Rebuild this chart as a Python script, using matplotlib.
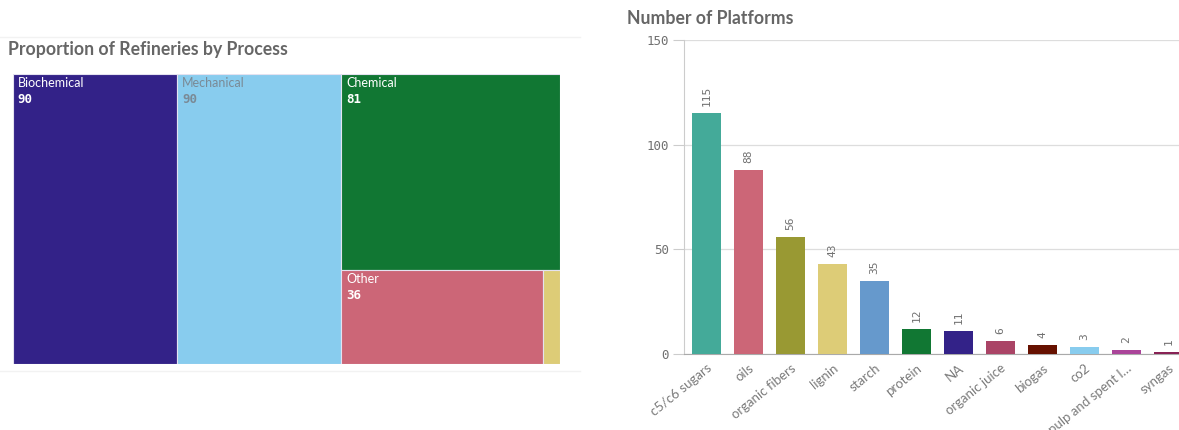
import matplotlib
matplotlib.use("Agg")
import matplotlib.pyplot as plt
from matplotlib.patches import Rectangle

# ---- data ----
process_names = ["Biochemical", "Mechanical", "Chemical", "Other", "Thermochemical"]
process_counts = [90, 90, 81, 36, 3]
process_colors = ["#332288", "#88CCEE", "#117733", "#CC6677", "#DDCC77"]

platform_names = ["c5/c6 sugars", "oils", "organic fibers", "lignin", "starch",
                  "protein", "NA", "organic juice", "biogas", "co2",
                  "pulp and spent l\u2026", "syngas"]
platform_counts = [115, 88, 56, 43, 35, 12, 11, 6, 4, 3, 2, 1]
platform_colors = ["#44AA99", "#CC6677", "#999933", "#DDCC77", "#6699CC",
                   "#117733", "#332288", "#AA4466", "#661100", "#88CCEE",
                   "#AA4499", "#882255"]
y_ticks = [0, 50, 100, 150]

TITLE_C = "#666666"
TEXT_C = "#707070"
SANS = ["Lato", "DejaVu Sans"]
MONO = ["DejaVu Sans Mono"]

W, H = 1179, 430
fig = plt.figure(figsize=(W / 100, H / 100), dpi=100)


def fx(px):
    return px / W


def fy(py):
    return 1 - py / H


# ---- squarified treemap layout ----
def worst(row, length):
    s = sum(row)
    return max(max(length * length * r / (s * s), (s * s) / (length * length * r)) for r in row)


def layout_row(row, x, y, dx, dy):
    rects = []
    s = sum(row)
    if dx >= dy:  # column along the left side
        w = s / dy
        yy = y
        for r in row:
            h = r / w
            rects.append((x, yy, w, h))
            yy += h
        return rects, (x + w, y, dx - w, dy)
    else:  # row along the top side
        h = s / dx
        xx = x
        for r in row:
            w = r / h
            rects.append((xx, y, w, h))
            xx += w
        return rects, (x, y + h, dx, dy - h)


def squarify(values, x, y, dx, dy):
    total = sum(values)
    areas = [v * dx * dy / total for v in values]
    rects = []
    rect = (x, y, dx, dy)
    i = 0
    while i < len(areas):
        side = min(rect[2], rect[3])
        row = [areas[i]]
        i += 1
        while i < len(areas) and worst(row + [areas[i]], side) <= worst(row, side):
            row.append(areas[i])
            i += 1
        placed, rect = layout_row(row, *rect)
        rects.extend(placed)
    return rects


# ---- treemap panel ----
tm_left, tm_top, tm_w, tm_h = 12.7, 74, 547.3, 290
ax1 = fig.add_axes([fx(tm_left), fy(tm_top + tm_h), fx(tm_w), tm_h / H])
ax1.set_xlim(0, tm_w)
ax1.set_ylim(tm_h, 0)
ax1.axis("off")

for (rx, ry, rw, rh), name, val, col in zip(
        squarify(process_counts, 0, 0, tm_w, tm_h),
        process_names, process_counts, process_colors):
    ax1.add_patch(Rectangle((rx, ry), rw, rh, facecolor=col,
                            edgecolor="#e4e2f0", linewidth=0.8))
    if rw > 40 and rh > 40:
        lc = "#7a8a96" if name == "Mechanical" else "white"
        ax1.text(rx + 5, ry + 3, name, color=lc, fontsize=9, family=SANS,
                 va="top", ha="left")
        ax1.text(rx + 5, ry + 19, str(val), color=lc, fontsize=9, family=MONO,
                 fontweight="bold", va="top", ha="left")

fig.text(fx(8), fy(49), "Proportion of Refineries by Process", fontsize=12.7,
         fontweight="bold", color=TITLE_C, family=SANS, va="center", ha="left")
# faint separators above and below the treemap panel
fig.add_artist(plt.Line2D([0, fx(580)], [fy(37), fy(37)], color="#f2f2f2", lw=1))
fig.add_artist(plt.Line2D([0, fx(580)], [fy(371), fy(371)], color="#f2f2f2", lw=1))

# ---- bar panel ----
step = 42.0
x_lo, x_hi = -0.53, 11.5
ax2 = fig.add_axes([fx(684.3), fy(353.7), (x_hi - x_lo) * step / W, 313.7 / H])
xs = list(range(len(platform_counts)))
ax2.bar(xs, platform_counts, width=0.705, color=platform_colors, zorder=3)
ax2.set_xlim(x_lo, x_hi)
ax2.set_ylim(0, 150)
ax2.set_yticks(y_ticks)
ax2.set_yticklabels([str(t) for t in y_ticks], family=MONO, fontsize=9, color=TEXT_C)
ax2.tick_params(axis="y", length=8, width=0.8, color="#cccccc", pad=3)
ax2.grid(axis="y", color="#dddddd", linewidth=0.9, zorder=0)
for side in ("top", "right"):
    ax2.spines[side].set_visible(False)
ax2.spines["left"].set_color("#cccccc")
ax2.spines["bottom"].set_color("#aaaaaa")
ax2.set_xticks(xs)
ax2.set_xticklabels(platform_names, rotation=39, ha="right",
                    rotation_mode="anchor", fontsize=9.5, color="#7a7a7a", family=SANS)
ax2.tick_params(axis="x", length=0, pad=6)

for x, v in zip(xs, platform_counts):
    ax2.annotate(str(v), (x, v), xytext=(0, 5), textcoords="offset points",
                 rotation=90, ha="center", va="bottom", fontsize=8,
                 family=MONO, color=TEXT_C)

fig.text(fx(627), fy(19), "Number of Platforms", fontsize=12.7, fontweight="bold",
         color=TITLE_C, family=SANS, va="center", ha="left")

fig.savefig("out.png", dpi=100, facecolor="white")
